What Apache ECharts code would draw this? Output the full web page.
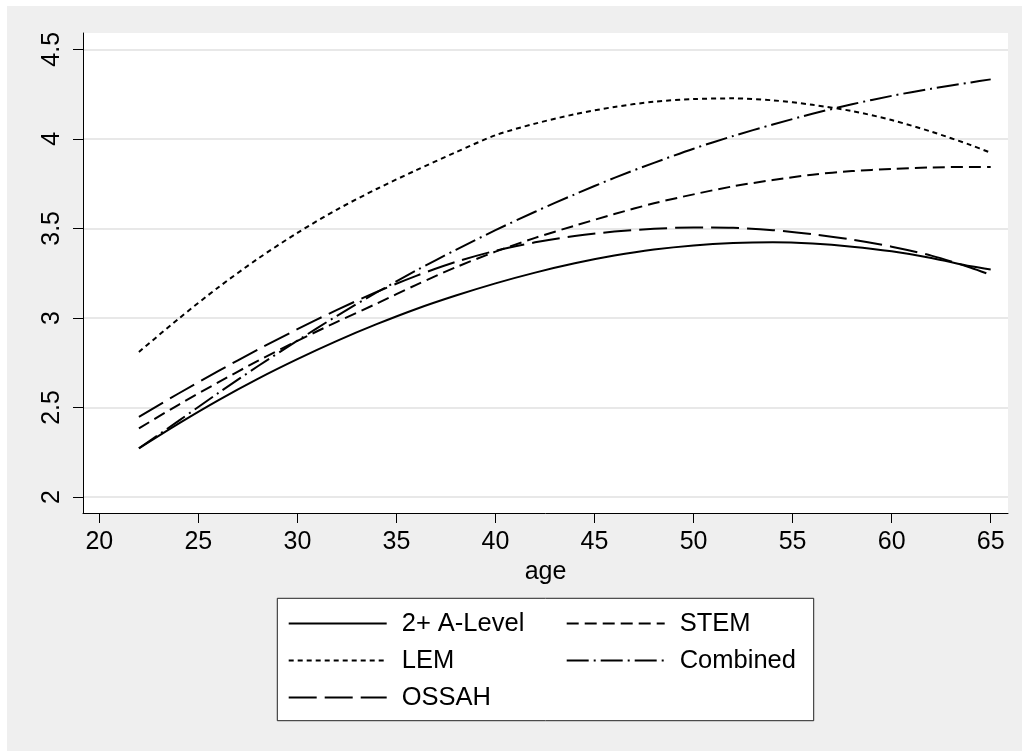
<!DOCTYPE html>
<html>
<head>
<meta charset="utf-8">
<script src="https://cdn.jsdelivr.net/npm/echarts@6/dist/echarts.min.js"></script>
<style>
  html, body { margin: 0; padding: 0; background: #ffffff; }
  #chart { position: absolute; left: 7px; top: 6px; width: 1015px; height: 745px; background: #efefef; }
</style>
</head>
<body>
<div id="chart"></div>
<script>
// ---- data ----
const ages = [22, 24, 26, 28, 30, 32, 34, 36, 38, 40, 42, 44, 46, 48, 50, 52, 54, 56, 58, 60, 62, 64, 65];
const aLevel   = [2.272, 2.410, 2.540, 2.660, 2.770, 2.872, 2.965, 3.050, 3.125, 3.193, 3.253, 3.305, 3.348, 3.382, 3.405, 3.418, 3.422, 3.415, 3.398, 3.372, 3.335, 3.288, 3.271];
const stem     = [2.383, 2.515, 2.640, 2.760, 2.872, 2.978, 3.080, 3.185, 3.283, 3.370, 3.447, 3.515, 3.580, 3.640, 3.690, 3.735, 3.770, 3.800, 3.820, 3.832, 3.840, 3.843, 3.843];
const lem      = [2.810, 2.995, 3.170, 3.330, 3.475, 3.605, 3.720, 3.825, 3.925, 4.020, 4.085, 4.137, 4.178, 4.207, 4.222, 4.226, 4.215, 4.190, 4.155, 4.105, 4.040, 3.965, 3.922];
const combined = [2.272, 2.425, 2.580, 2.730, 2.873, 3.012, 3.142, 3.265, 3.380, 3.490, 3.593, 3.690, 3.782, 3.866, 3.945, 4.016, 4.080, 4.140, 4.193, 4.240, 4.280, 4.315, 4.332];
const ossah    = [2.448, 2.578, 2.703, 2.823, 2.937, 3.045, 3.145, 3.235, 3.313, 3.375, 3.422, 3.457, 3.482, 3.498, 3.505, 3.503, 3.490, 3.467, 3.437, 3.398, 3.348, 3.280, 3.240];
const seriesNames = ['2+ A-Level', 'STEM', 'LEM', 'Combined', 'OSSAH'];
const xTicks = [20, 25, 30, 35, 40, 45, 50, 55, 60, 65];
const yTicks = [2, 2.5, 3, 3.5, 4, 4.5];
const xName = 'age';

// ---- build ----
const FONT = '"Liberation Sans", Arial, sans-serif';
const pair = (ys) => ages.map((a, i) => [a, ys[i]]);
const dashes = {
  '2+ A-Level': 'solid',
  'STEM': [12, 6],
  'LEM': [5, 4],
  'Combined': [22, 5, 2, 5],
  'OSSAH': [28, 8]
};
const values = {
  '2+ A-Level': aLevel, 'STEM': stem, 'LEM': lem, 'Combined': combined, 'OSSAH': ossah
};

const chart = echarts.init(document.getElementById('chart'), null, { renderer: 'canvas' });
chart.setOption({
  animation: false,
  backgroundColor: '#efefef',
  textStyle: { fontFamily: FONT },
  grid: {
    left: 76, top: 27, right: 14, bottom: 238,
    show: true, backgroundColor: '#ffffff', borderWidth: 0
  },
  xAxis: {
    type: 'value', min: 19.177, max: 65.873,
    name: xName, nameLocation: 'middle', nameGap: 41,
    nameTextStyle: { fontSize: 25, color: '#000', fontFamily: FONT },
    axisLine: { show: true, onZero: false, lineStyle: { color: '#000', width: 1 } },
    axisTick: { show: true, length: 10, customValues: xTicks, lineStyle: { color: '#000', width: 1 } },
    axisLabel: { customValues: xTicks, fontSize: 25, color: '#000', margin: 17, fontFamily: FONT },
    splitLine: { show: false }
  },
  yAxis: {
    type: 'value', min: 1.9107, max: 4.591,
    axisLine: { show: true, onZero: false, lineStyle: { color: '#000', width: 1 } },
    axisTick: { show: true, length: 10, customValues: yTicks, lineStyle: { color: '#000', width: 1 } },
    axisLabel: { customValues: yTicks, rotate: 90, fontSize: 25, color: '#000', margin: 18, fontFamily: FONT },
    splitLine: { show: true, lineStyle: { color: '#e8e8e8', width: 2 } }
  },
  legend: {
    left: 270.3, top: 592.3, width: 520,
    orient: 'horizontal',
    padding: [12.2, 10, 10.2, 10.4],
    itemGap: 11, itemWidth: 98, itemHeight: 14,
    backgroundColor: '#ffffff', borderColor: '#222', borderWidth: 1,
    itemStyle: { color: 'rgba(0,0,0,0)', borderWidth: 0, opacity: 0 },
    textStyle: { fontSize: 25.5, color: '#000', lineHeight: 25, padding: [0, 0, 0, 10], fontFamily: FONT },
    data: seriesNames.map((n, i) => ({
      name: n,
      textStyle: { width: (i % 2 === 0) ? 153 : 124 }
    }))
  },
  series: seriesNames.map(n => ({
    name: n, type: 'line', data: pair(values[n]),
    symbol: 'none', smooth: 0.3,
    lineStyle: { color: '#000', width: 2, type: dashes[n], cap: 'butt' },
    itemStyle: { color: '#000' },
    emphasis: { disabled: true }
  }))
});
</script>
</body>
</html>
